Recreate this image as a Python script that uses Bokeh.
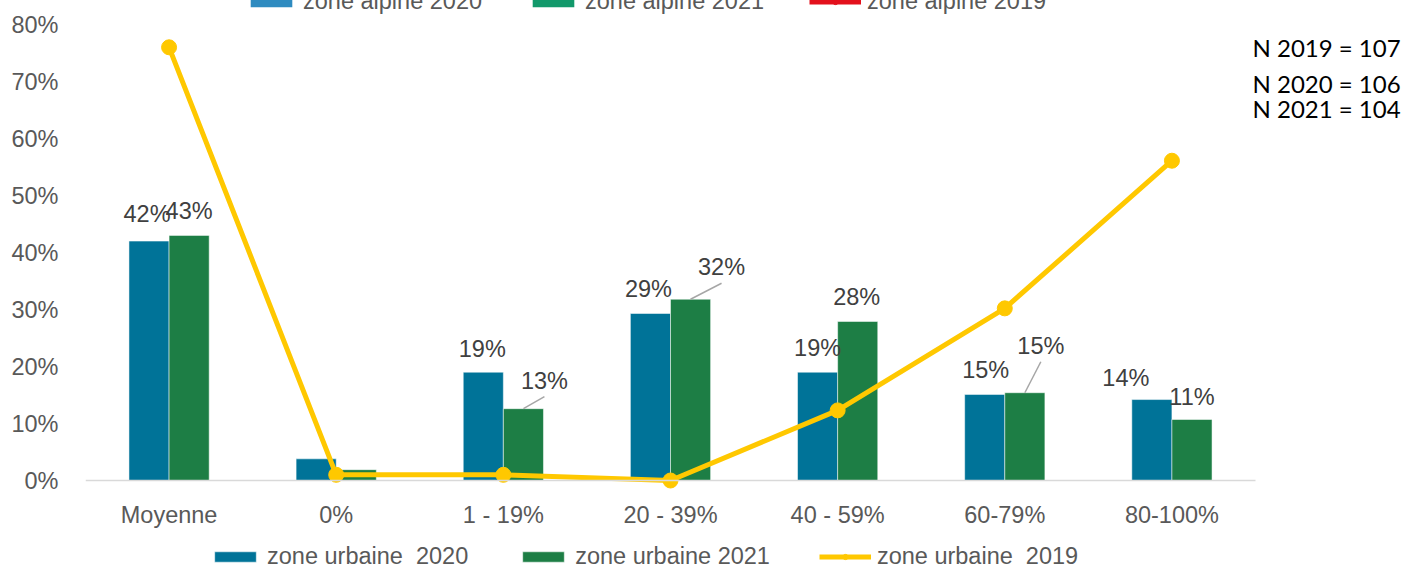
from bokeh.plotting import figure
from bokeh.models import (ColumnDataSource, Legend, LegendItem, NumeralTickFormatter,
                          FixedTicker, Label, Range1d)
from bokeh.core.properties import value
from bokeh.embed import file_html
from bokeh.resources import INLINE

NaN = float("nan")

# ---------------- data ----------------
categories = ["Moyenne", "0%", "1 - 19%", "20 - 39%", "40 - 59%", "60-79%", "80-100%"]
urbaine_2020 = [0.42, 0.038, 0.19, 0.293, 0.19, 0.151, 0.142]
urbaine_2021 = [0.43, 0.019, 0.126, 0.318, 0.279, 0.154, 0.107]
urbaine_2019 = [0.76, 0.01, 0.01, 0.0, 0.123, 0.302, 0.561]
# the "zone alpine" series only appear in the (cropped) top legend: no values shown
alpine_2020 = [NaN] * 7
alpine_2021 = [NaN] * 7
alpine_2019 = [NaN] * 7
n_years = ["2019", "2020", "2021"]
n_counts = [107, 106, 104]
legend_urbaine = ["zone urbaine  2020", "zone urbaine 2021", "zone urbaine  2019"]
legend_alpine = ["zone alpine 2020", "zone alpine 2021", "zone alpine 2019"]

# ---------------- style ----------------
BLUE = "#007398"
GREEN = "#1D7E45"
YELLOW = "#FFC800"
A_BLUE = "#2E8BC0"
A_GREEN = "#12996B"
A_RED = "#E3101C"
FONT = "Liberation Sans"
FS = "23.5px"

W, H = 1412, 570
LEFT = 85                    # left panel (y tick labels)
Y0_PX, Y80_PX = 480, 24      # pixel rows of 0% and 80%
CAT_W = 1170 / 7.0           # pixel width of one category
FW = W - LEFT
px_y = (Y0_PX - Y80_PX) / 0.8
ncat = len(categories)
x_end = FW / CAT_W
y_start = -(H - Y0_PX) / px_y
y_end = 0.8 + Y80_PX / px_y

# label offsets (pixels) and which labels are shown / get leader lines
lab_dx_2020 = [-2, 0, -1, -2, 0, 1, -26]
lab_dy_2020 = [-27, 0, -23, -24, -24, -24, -22]
lab_dx_2021 = [0, 0, 21, 31, -1, 16, 0]
lab_dy_2021 = [-24, 0, -28, -32, -24, -47, -23]
show_label = [True, False, True, True, True, True, True]
leader_2021 = [False, False, True, True, False, True, False]

p = figure(width=W, height=H, title=None,
           min_border_left=LEFT, min_border_right=0, min_border_top=0, min_border_bottom=0,
           x_range=Range1d(0, x_end), y_range=Range1d(y_start, y_end),
           output_backend="svg", toolbar_location=None)
p.outline_line_color = None
p.xgrid.visible = False
p.ygrid.visible = False
p.background_fill_color = "white"
p.border_fill_color = "white"

xs = [i + 0.5 for i in range(ncat)]
bw = 0.24
x20 = [x - bw / 2 for x in xs]
x21 = [x + bw / 2 for x in xs]

r20 = p.vbar(x=x20, top=urbaine_2020, width=bw, fill_color=BLUE,
             line_color="#ffffff", line_alpha=0.5, line_width=1)
r21 = p.vbar(x=x21, top=urbaine_2021, width=bw, fill_color=GREEN,
             line_color="#ffffff", line_alpha=0.5, line_width=1)
rl = p.line(xs, urbaine_2019, line_color=YELLOW, line_width=5)
rs = p.scatter(xs, urbaine_2019, size=15, fill_color=YELLOW, line_color=YELLOW)

# zone alpine series (no visible values)
ea = p.vbar(x=x20, top=alpine_2020, width=bw, fill_color=A_BLUE, line_color=None)
eb = p.vbar(x=x21, top=alpine_2021, width=bw, fill_color=A_GREEN, line_color=None)
ec = p.line(xs, alpine_2019, line_color=A_RED, line_width=5)
ed = p.scatter(xs, alpine_2019, size=15, fill_color=A_RED, line_color=A_RED)

# data labels
lx, ly, lt, ldx, ldy = [], [], [], [], []
for i in range(ncat):
    if not show_label[i]:
        continue
    lx += [x20[i], x21[i]]
    ly += [urbaine_2020[i], urbaine_2021[i]]
    lt += [f"{round(urbaine_2020[i]*100)}%", f"{round(urbaine_2021[i]*100)}%"]
    ldx += [lab_dx_2020[i], lab_dx_2021[i]]
    ldy += [lab_dy_2020[i], lab_dy_2021[i]]
lsrc = ColumnDataSource(dict(x=lx, y=ly, t=lt, dx=ldx, dy=ldy))
p.text(x="x", y="y", text="t", x_offset="dx", y_offset="dy", source=lsrc,
       text_align="center", text_baseline="middle", text_font=value(FONT),
       text_font_size=FS, text_color="#404040")

# leader lines
sx0, sy0, sx1, sy1 = [], [], [], []
for i in range(ncat):
    if leader_2021[i]:
        sx0.append(x21[i]); sy0.append(urbaine_2021[i])
        sx1.append(x21[i] + lab_dx_2021[i] / CAT_W)
        sy1.append(urbaine_2021[i] - (lab_dy_2021[i] + 16) / px_y)
p.segment(x0=sx0, y0=sy0, x1=sx1, y1=sy1, line_color="#A6A6A6", line_width=1.5)

# axes
p.yaxis.ticker = FixedTicker(ticks=[i / 10 for i in range(9)])
p.yaxis.formatter = NumeralTickFormatter(format="0%")
p.yaxis.axis_line_color = None
p.yaxis.major_tick_line_color = None
p.yaxis.minor_tick_line_color = None
p.yaxis.major_label_text_font = FONT
p.yaxis.major_label_text_font_size = FS
p.yaxis.major_label_text_color = "#595959"
p.yaxis.major_label_standoff = 21

p.xaxis.fixed_location = 0
p.xaxis.ticker = FixedTicker(ticks=xs)
p.xaxis.major_label_overrides = {x: c for x, c in zip(xs, categories)}
p.xaxis.bounds = (0, ncat)
p.xaxis.axis_line_color = "#D9D9D9"
p.xaxis.axis_line_width = 1.5
p.xaxis.major_tick_line_color = None
p.xaxis.minor_tick_line_color = None
p.xaxis.major_label_text_font = FONT
p.xaxis.major_label_text_font_size = FS
p.xaxis.major_label_text_color = "#595959"
p.xaxis.major_label_standoff = 15

# bottom legend (zone urbaine)
leg = Legend(items=[LegendItem(label=legend_urbaine[0], renderers=[r20]),
                    LegendItem(label=legend_urbaine[1], renderers=[r21]),
                    LegendItem(label=legend_urbaine[2], renderers=[rl, rs])],
             orientation="horizontal", location=(124, 0),
             glyph_width=52, glyph_height=13, label_height=24, label_standoff=6, spacing=49,
             padding=0, margin=0, label_text_font=FONT, label_text_font_size=FS,
             label_text_color="#595959", background_fill_alpha=0, border_line_color=None)
p.add_layout(leg)

# top legend (zone alpine) - mostly outside the picture like the original
leg2 = Legend(items=[LegendItem(label=legend_alpine[0], renderers=[ea]),
                     LegendItem(label=legend_alpine[1], renderers=[eb]),
                     LegendItem(label=legend_alpine[2], renderers=[ec, ed])],
              orientation="horizontal", location=(160, H - 15),
              glyph_width=52, glyph_height=13, label_height=24, label_standoff=6, spacing=45,
              padding=0, margin=0, label_text_font=FONT, label_text_font_size=FS,
              label_text_color="#595959", background_fill_alpha=0, border_line_color=None)
p.add_layout(leg2)

# N annotations
n_page_y = [47, 83, 108]
for yr, n, cy in zip(n_years, n_counts, n_page_y):
    p.add_layout(Label(x=(1252 - LEFT) / CAT_W, y=(Y0_PX - cy) / px_y,
                       text=f"N {yr} = {n}", text_font="Lato", text_font_size="24px",
                       text_color="#000000", text_align="left", text_baseline="middle"))

open("out.html", "w").write(file_html(p, INLINE))
